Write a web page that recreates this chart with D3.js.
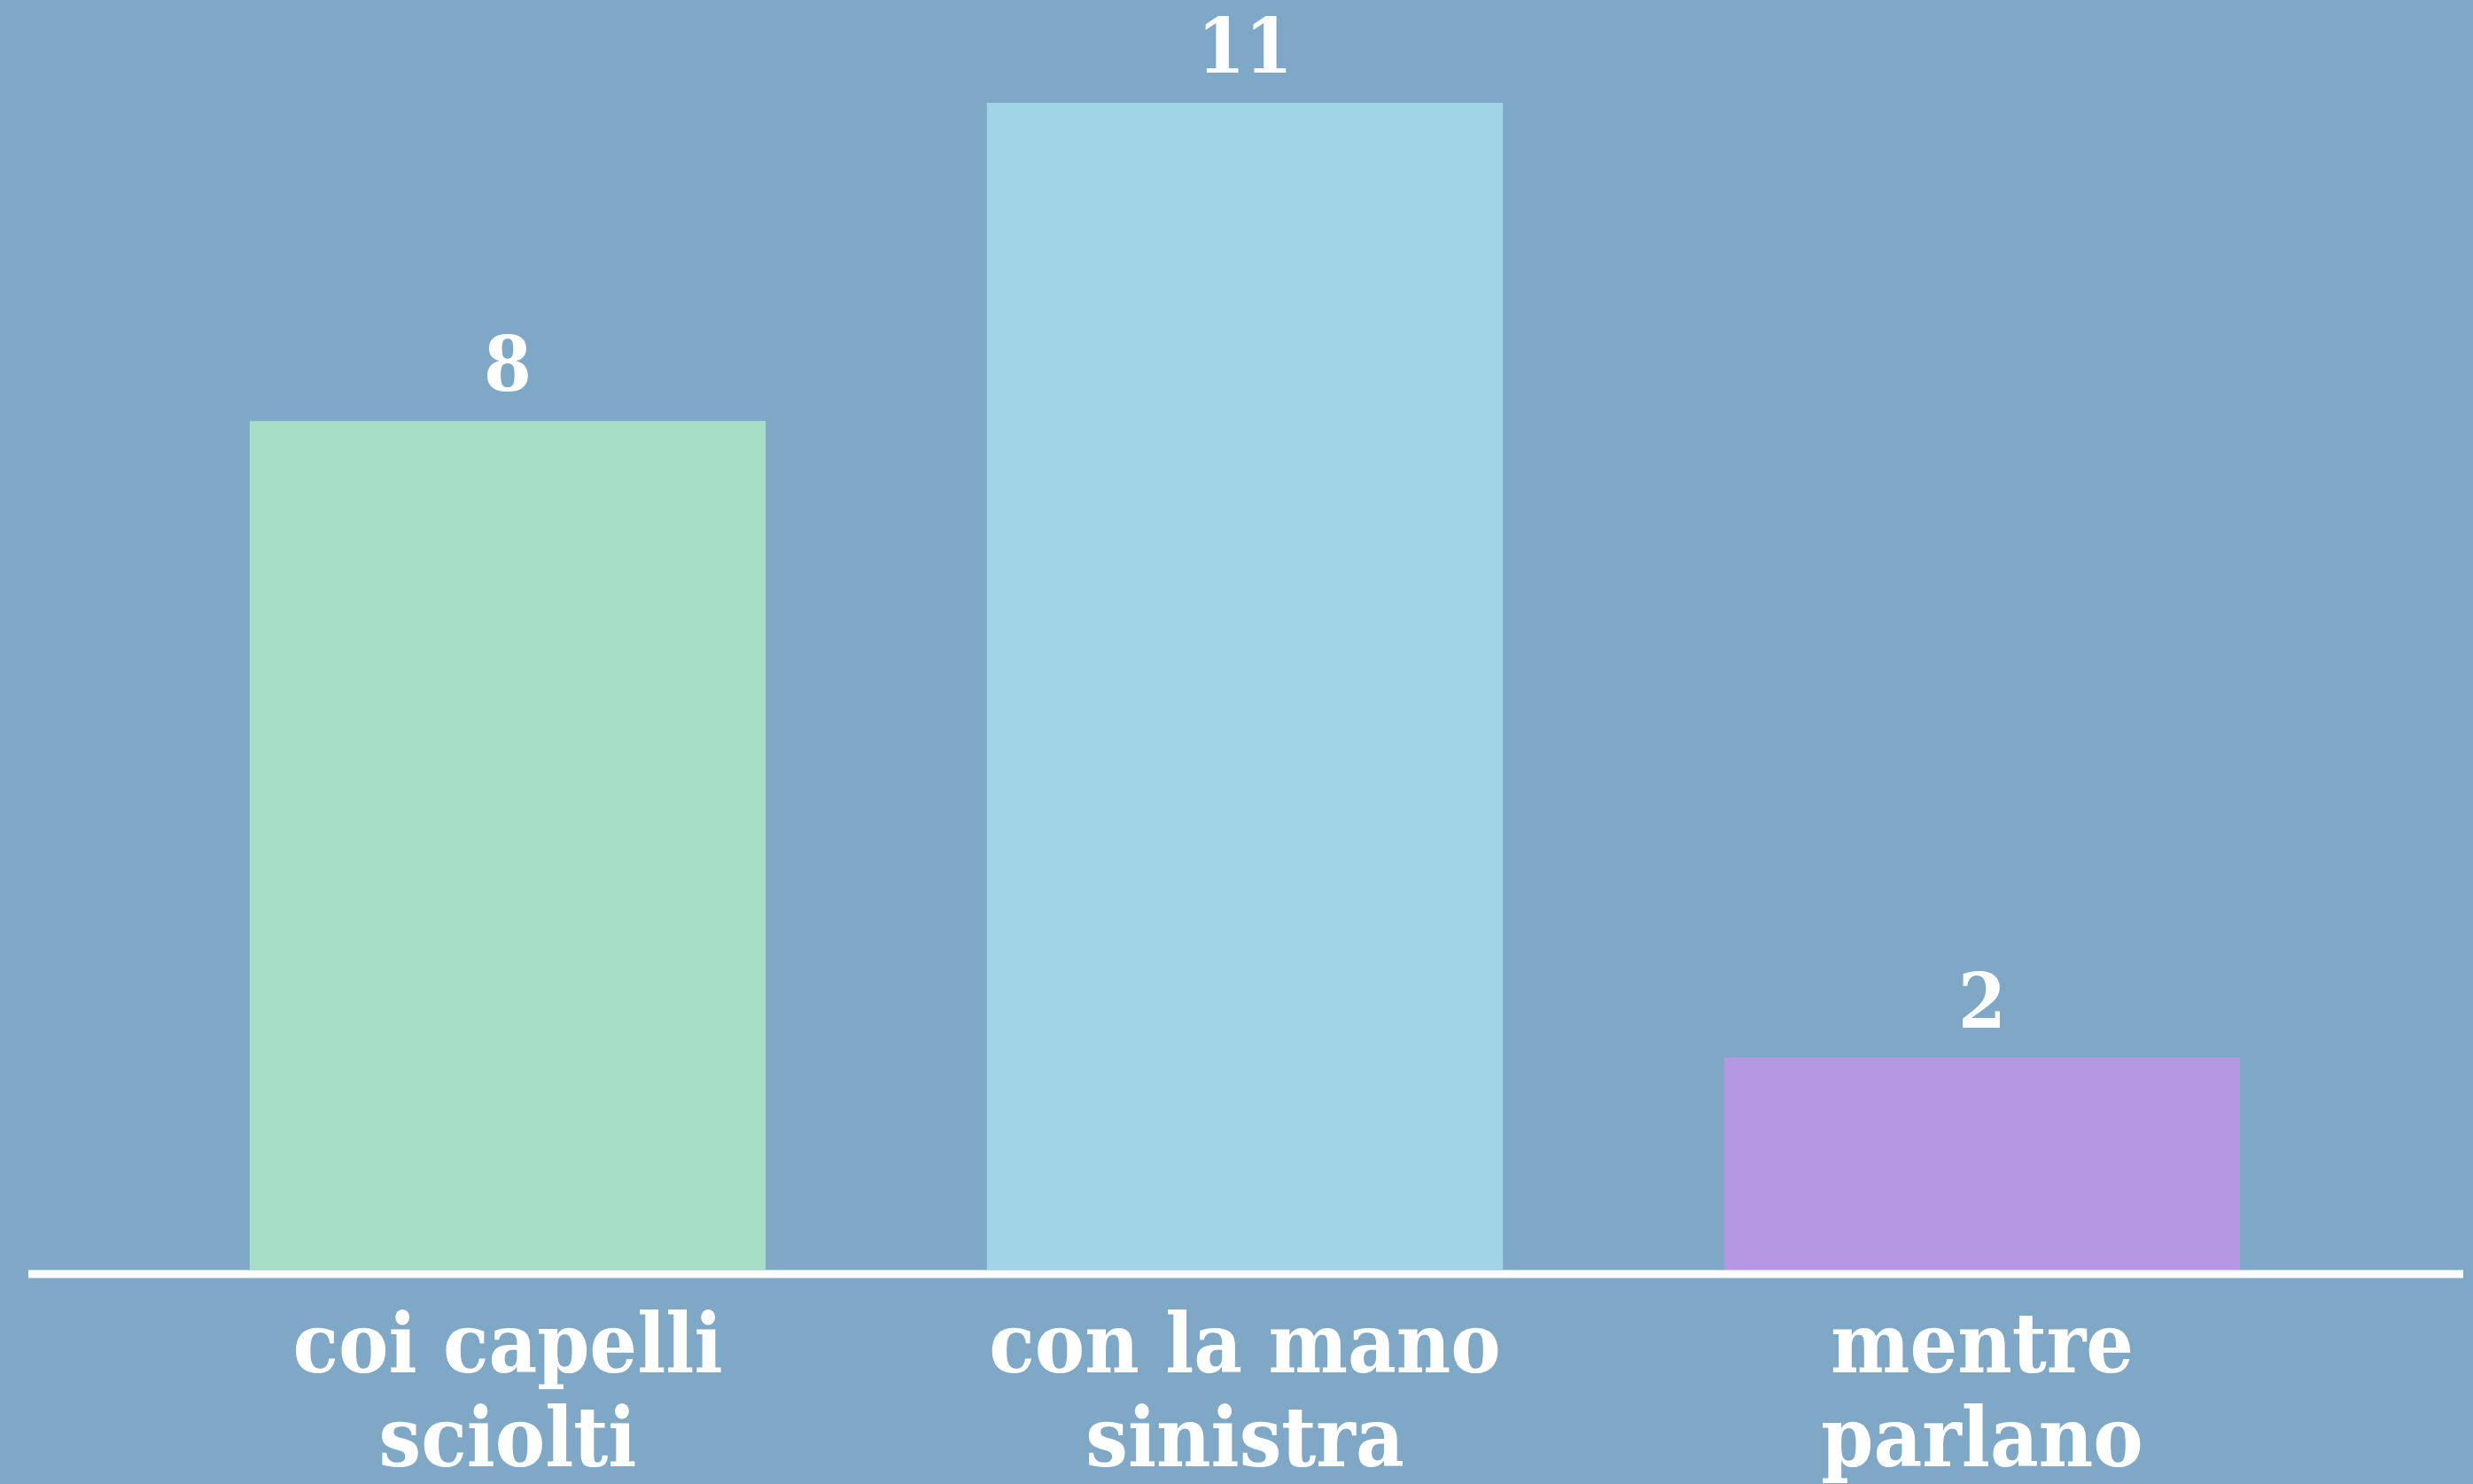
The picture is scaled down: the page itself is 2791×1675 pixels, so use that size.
<!DOCTYPE html>
<html>
<head>
<meta charset="utf-8">
<script src="https://cdn.jsdelivr.net/npm/d3@7"></script>
<style>
  html, body { margin: 0; padding: 0; background: #7ea8c5; }
  svg { display: block; }
  .rotulo, .tick text { font-family: "DejaVu Serif Condensed", "DejaVu Serif", serif; font-weight: bold; fill: #ffffff; }
</style>
</head>
<body>
<div id="grafico"></div>
<script>
// dati
const categorie = ["coi capelli\nsciolti", "con la mano\nsinistra", "mentre\nparlano"];
const valori = [8, 11, 2];
const colori = ["#a6dec6", "#a0d4e6", "#b697e4"];

function creaGrafico() {
    const largura = 2791;
    const altura = 1675;
    const base = 1433;

    const svg = d3.select("#grafico")
        .append("svg")
        .attr("width", largura)
        .attr("height", altura);

    svg.append("rect")
        .attr("width", largura)
        .attr("height", altura)
        .attr("fill", "#7ea8c5");

    const x = d3.scaleBand()
        .domain(categorie)
        .range([157, 2653])
        .paddingInner(0.3)
        .paddingOuter(0.15);

    const y = d3.scaleLinear()
        .domain([0, 11])
        .range([base, 116]);

    // barre
    svg.selectAll(".bar")
        .data(valori)
        .enter()
        .append("rect")
        .attr("class", "bar")
        .attr("x", (d, i) => x(categorie[i]))
        .attr("y", d => y(d))
        .attr("width", x.bandwidth())
        .attr("height", d => y(0) - y(d))
        .attr("fill", (d, i) => colori[i]);

    // valori sopra le barre
    svg.selectAll(".rotulo")
        .data(valori)
        .enter()
        .append("text")
        .attr("class", "rotulo")
        .attr("x", (d, i) => x(categorie[i]) + x.bandwidth() / 2)
        .attr("y", d => y(d) - 34)
        .attr("text-anchor", "middle")
        .style("font-size", "86px")
        .text(d => d);

    // asse x con etichette su due righe
    const asse = svg.append("g")
        .attr("transform", `translate(0,${base})`)
        .call(d3.axisBottom(x).tickSize(0).tickFormat(""));
    asse.select(".domain").remove();

    asse.selectAll(".tick text")
        .style("font-size", "94px")
        .attr("y", 0)
        .attr("dy", null)
        .each(function (d) {
            const t = d3.select(this);
            d.split("\n").forEach((riga, k) => {
                t.append("tspan")
                    .attr("x", 0)
                    .attr("y", 116 + k * 106)
                    .text(riga);
            });
        });

    // linea di base bianca
    svg.append("line")
        .attr("x1", 32)
        .attr("x2", 2780)
        .attr("y1", base + 5)
        .attr("y2", base + 5)
        .attr("stroke", "#ffffff")
        .attr("stroke-width", 9);
}

creaGrafico();
</script>
</body>
</html>
